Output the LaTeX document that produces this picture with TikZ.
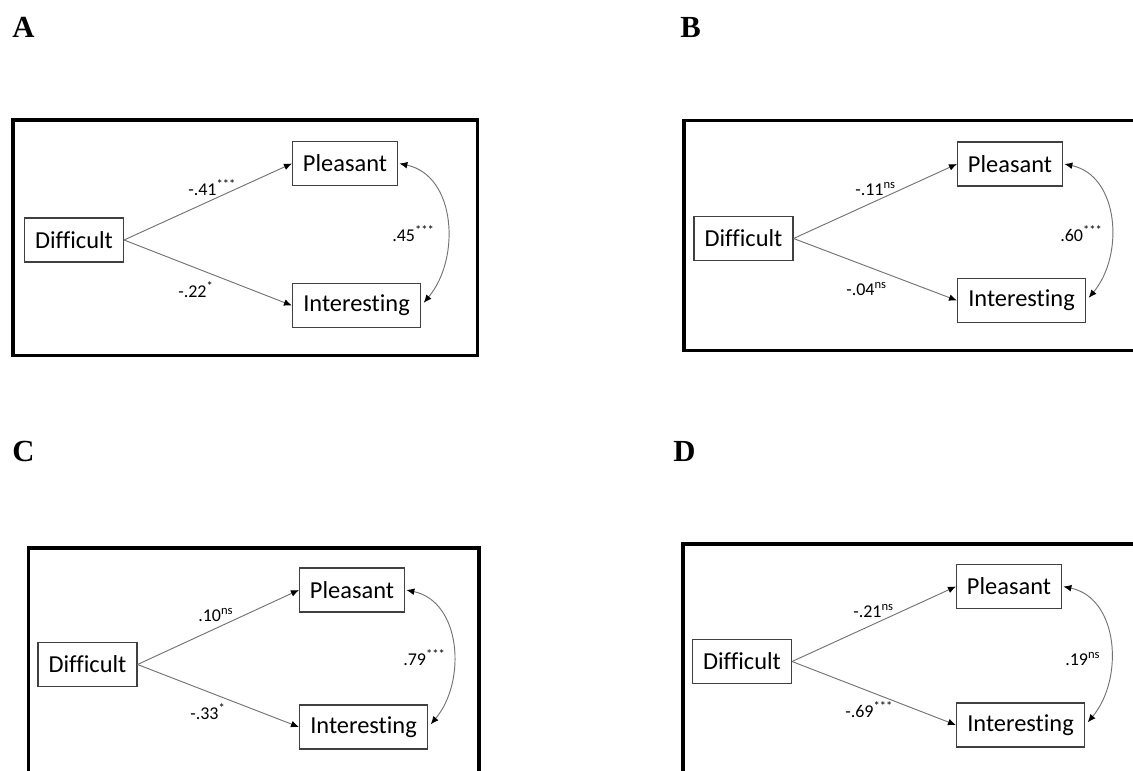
\documentclass[tikz,border=0pt]{standalone}
\usepackage{fontspec}
\setmainfont[Ligatures=NoCommon]{Carlito}
\newfontfamily\panelfont{Liberation Serif}
\usetikzlibrary{arrows.meta}
\begin{document}
\begin{tikzpicture}[x=0.75pt,y=-0.75pt,
  panelframe/.style={draw=black,line width=2.8pt},
  var/.style={draw=black!75,line width=0.8pt,fill=white,minimum height=33pt,inner sep=0pt,
              font=\fontsize{18.3}{20}\selectfont},
  vD/.style={var,minimum width=74.25pt},
  vP/.style={var,minimum width=78.75pt},
  vI/.style={var,minimum width=96pt},
  pathline/.style={draw=black!55,line width=0.7pt,-{Latex[length=6pt,width=5pt,color=black]}},
  covline/.style={draw=black!55,line width=0.7pt,
                  {Latex[length=6pt,width=5pt,color=black]}-{Latex[length=6pt,width=5pt,color=black]}},
  coef/.style={anchor=base west,inner sep=0pt,font=\fontsize{13.5}{15}\selectfont},
  letter/.style={anchor=base west,inner sep=0pt,font=\panelfont\bfseries\fontsize{23}{26}\selectfont}
]
\useasboundingbox (0,0) rectangle (1133,771);
\clip (0,0) rectangle (1133,771);
\fill[white] (0,0) rectangle (1133,771);

% panel letters
\node[letter] (labA) at (12,37) {A};
\node[letter] (labB) at (680,37) {B};
\node[letter] (labC) at (12,461) {C};
\node[letter] (labD) at (673,461) {D};

% frames
\draw[panelframe] (13,120) rectangle (477.5,355.5);
\draw[panelframe] (684,120.5) rectangle (1150,350.5);
\draw[panelframe] (28.5,548) rectangle (479,790);
\draw[panelframe] (683,544) rectangle (1150,790);

% ---- panel A
\node[vD] (dA) at (74,240) {Difficult};
\node[vP] (pA) at (345,163.5) {Pleasant};
\node[vI] (iA) at (356.5,305.5) {Interesting};
\draw[pathline] (dA.east) -- (pA.west);
\draw[pathline] (dA.east) -- (iA.west);
\draw[covline] ([xshift=1pt]pA.east) to[out=-12,in=50,looseness=1.05] ([xshift=2pt,yshift=2pt]iA.east);
\node[coef] (cA1) at (188,195) {-.41\textsuperscript{***}};
\node[coef] (cA2) at (178,297) {-.22\textsuperscript{*}};
\node[coef] (cA3) at (392,241) {.45\textsuperscript{***}};

% ---- panel B
\node[vD] (dB) at (743.5,238.5) {Difficult};
\node[vP] (pB) at (1010,164) {Pleasant};
\node[vI] (iB) at (1021.5,300.5) {Interesting};
\draw[pathline] (dB.east) -- (pB.west);
\draw[pathline] (dB.east) -- (iB.west);
\draw[covline] ([xshift=1pt]pB.east) to[out=-12,in=50,looseness=1.05] ([xshift=2pt,yshift=2pt]iB.east);
\node[coef] (cB1) at (855,195) {-.11\textsuperscript{ns}};
\node[coef] (cB2) at (846,295) {-.04\textsuperscript{ns}};
\node[coef] (cB3) at (1060,241) {.60\textsuperscript{***}};

% ---- panel C
\node[vD] (dC) at (87.5,664.5) {Difficult};
\node[vP] (pC) at (352,590) {Pleasant};
\node[vI] (iC) at (363.5,727) {Interesting};
\draw[pathline] (dC.east) -- (pC.west);
\draw[pathline] (dC.east) -- (iC.west);
\draw[covline] ([xshift=1pt]pC.east) to[out=-12,in=50,looseness=1.05] ([xshift=2pt,yshift=2pt]iC.east);
\node[coef] (cC1) at (198,621) {.10\textsuperscript{ns}};
\node[coef] (cC2) at (190,719) {-.33\textsuperscript{*}};
\node[coef] (cC3) at (403,665) {.79\textsuperscript{***}};

% ---- panel D
\node[vD] (dD) at (742,661.5) {Difficult};
\node[vP] (pD) at (1009,586.5) {Pleasant};
\node[vI] (iD) at (1020.5,725) {Interesting};
\draw[pathline] (dD.east) -- (pD.west);
\draw[pathline] (dD.east) -- (iD.west);
\draw[covline] ([xshift=1pt]pD.east) to[out=-12,in=50,looseness=1.05] ([xshift=2pt,yshift=2pt]iD.east);
\node[coef] (cD1) at (853,617) {-.21\textsuperscript{ns}};
\node[coef] (cD2) at (845,717) {-.69\textsuperscript{***}};
\node[coef] (cD3) at (1065,665) {.19\textsuperscript{ns}};
\end{tikzpicture}
\end{document}
